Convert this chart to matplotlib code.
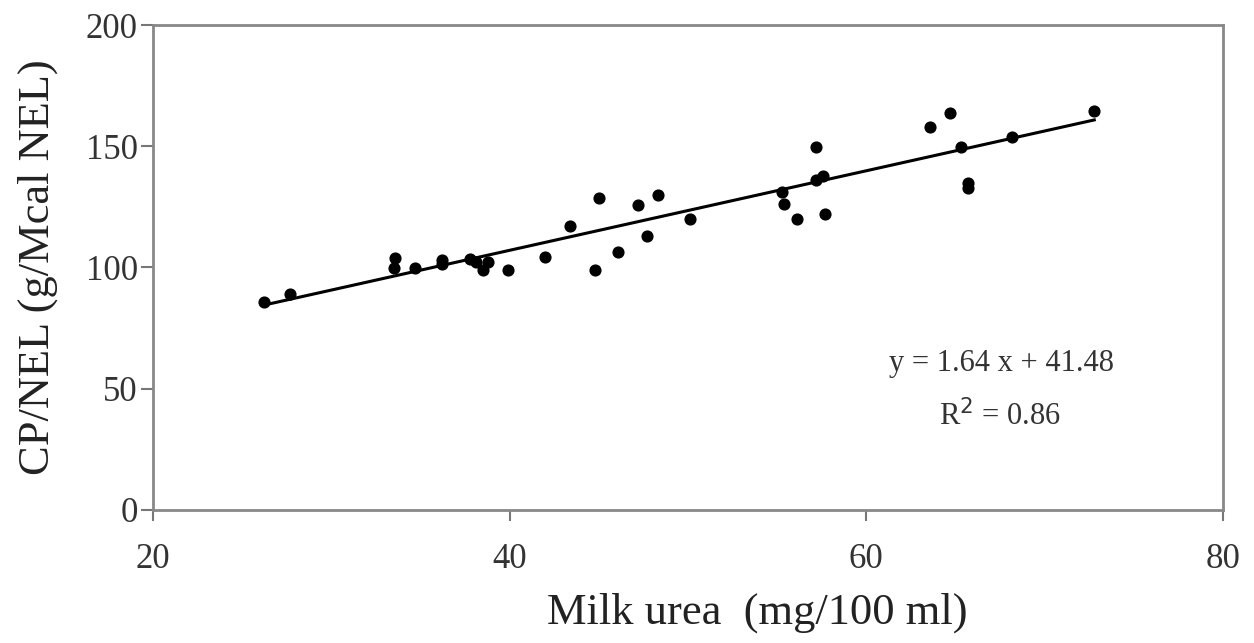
import numpy as np
import matplotlib
matplotlib.use('Agg')
import matplotlib.pyplot as plt

# milk urea (mg/100 ml) vs CP/NEL (g/Mcal NEL)
milk_urea = [26.2, 27.7, 33.6, 33.5, 34.7, 36.2, 36.2, 37.8, 38.1, 38.5,
             38.8, 39.9, 42.0, 43.4, 44.8, 45.0, 46.1, 47.2, 47.7, 48.3,
             50.1, 55.3, 55.4, 56.1, 57.2, 57.2, 57.6, 57.7, 63.6, 64.7,
             65.3, 65.7, 65.7, 68.2, 72.8]
cp_nel = [85.8, 89.1, 103.9, 99.8, 99.8, 101.4, 103.0, 103.5, 102.3, 99.0,
          102.3, 99.0, 104.3, 117.1, 99.0, 128.7, 106.4, 125.8, 113.0, 129.9,
          120.0, 131.0, 126.2, 120.0, 149.7, 136.0, 137.7, 122.0, 158.0, 163.7,
          149.7, 134.8, 132.8, 153.8, 164.5]

slope = 1.64
intercept = 41.48
r_squared = 0.86

x_ticks = [20, 40, 60, 80]
y_ticks = [0, 50, 100, 150, 200]

plt.rcParams['font.family'] = ['Liberation Serif', 'DejaVu Serif']

fig = plt.figure(figsize=(12.54, 6.43), dpi=100)
ax = fig.add_axes([0.122, 0.207, 0.853, 0.754])

ax.scatter(milk_urea, cp_nel, s=60, color='black', zorder=3)

fit_x = np.array([min(milk_urea), max(milk_urea)])
ax.plot(fit_x, slope * fit_x + intercept, color='black', lw=2.2, zorder=2)

# equation box, written in data units
ax.text(67.6, 60.5, f'y = {slope:.2f} x + {intercept:.2f}',
        ha='center', va='center', fontsize=22, color='#333333')
ax.text(67.5, 38.5, f'R$^2$ = {r_squared:.2f}',
        ha='center', va='center', fontsize=22, color='#333333')

ax.set_xlim(20, 80)
ax.set_ylim(0, 200)
ax.set_xticks(x_ticks)
ax.set_yticks(y_ticks)
ax.tick_params(axis='both', direction='out', width=1.5, color='#777777',
               labelsize=25, labelcolor='#333333')
ax.tick_params(axis='x', length=8, pad=16)
ax.tick_params(axis='y', length=9, pad=2)

for side in ['left', 'right', 'top', 'bottom']:
    ax.spines[side].set_color('#888888')
    ax.spines[side].set_linewidth(2)

ax.set_xlabel('Milk urea  (mg/100 ml)', fontsize=32, color='#222222', labelpad=14)
ax.xaxis.set_label_coords(0.565, -0.17)
ax.set_ylabel('CP/NEL (g/Mcal NEL)', fontsize=32, color='#222222', labelpad=20)

fig.savefig('out.png', dpi=100)
